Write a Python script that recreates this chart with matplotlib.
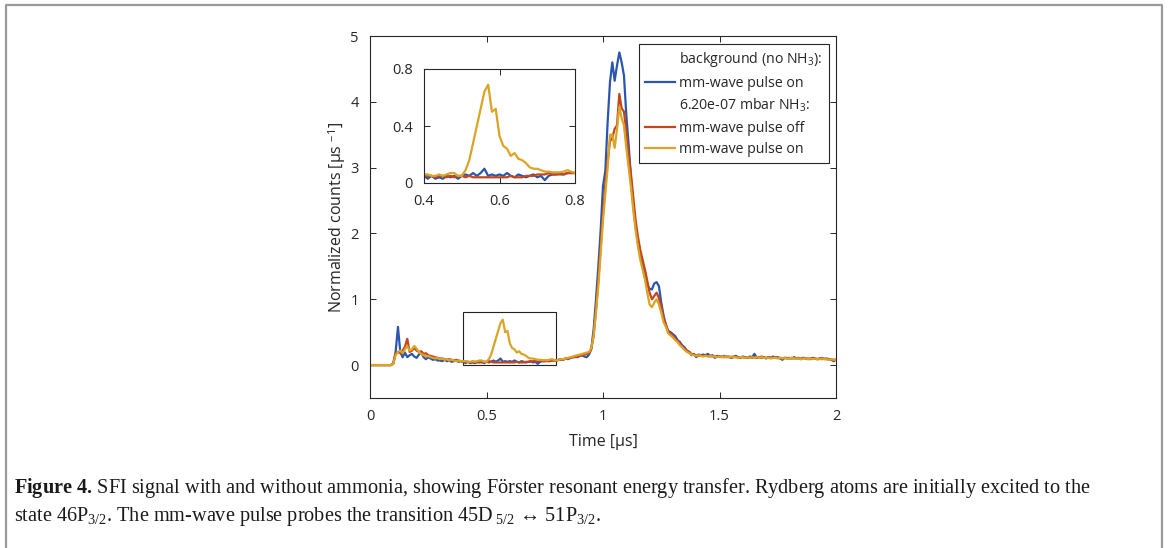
import matplotlib
matplotlib.use("Agg")
import matplotlib.pyplot as plt
from matplotlib.lines import Line2D
from matplotlib.patches import Rectangle
import numpy as np

# time axis of the SFI traces, 10 ns bins
time_us = np.round(np.arange(0, 201) * 0.01, 2)

# background (no NH3), mm-wave pulse on
bg_on = [
    0, 0, 0, 0, 0, 0, 0, 0, 0, 0,
    0.03, 0.20, 0.58, 0.20, 0.12, 0.19, 0.12, 0.15, 0.17, 0.13,
    0.11, 0.16, 0.19, 0.12, 0.09, 0.12, 0.10, 0.08, 0.09, 0.07,
    0.07, 0.06, 0.08, 0.06, 0.07, 0.05, 0.06, 0.07, 0.05, 0.06,
    0.05, 0.03, 0.05, 0.03, 0.04, 0.03, 0.05, 0.04, 0.05, 0.03,
    0.05, 0.06, 0.05, 0.07, 0.05, 0.07, 0.10, 0.05, 0.06, 0.05,
    0.06, 0.05, 0.07, 0.05, 0.04, 0.06, 0.05, 0.04, 0.05, 0.06,
    0.04, 0.05, 0.02, 0.05, 0.06, 0.06, 0.07, 0.06, 0.07, 0.07,
    0.07, 0.08, 0.09, 0.08, 0.10, 0.09, 0.11, 0.12, 0.13, 0.12,
    0.14, 0.15, 0.13, 0.12, 0.16, 0.25, 0.55, 1.00, 1.50, 2.05,
    2.72, 2.95, 3.70, 4.30, 4.60, 4.32, 4.55, 4.75, 4.60, 4.40,
    3.80, 3.35, 2.85, 2.42, 2.10, 1.85, 1.70, 1.55, 1.40, 1.22,
    1.16, 1.15, 1.24, 1.26, 1.20, 0.95, 0.75, 0.60, 0.52, 0.50,
    0.47, 0.44, 0.38, 0.35, 0.30, 0.27, 0.22, 0.20, 0.15, 0.17,
    0.12, 0.16, 0.15, 0.16, 0.15, 0.17, 0.14, 0.15, 0.11, 0.14,
    0.13, 0.12, 0.14, 0.12, 0.13, 0.11, 0.12, 0.14, 0.12, 0.11,
    0.13, 0.12, 0.11, 0.13, 0.12, 0.17, 0.11, 0.12, 0.11, 0.12,
    0.10, 0.12, 0.11, 0.13, 0.11, 0.12, 0.10, 0.08, 0.11, 0.10,
    0.11, 0.10, 0.12, 0.10, 0.11, 0.09, 0.11, 0.10, 0.09, 0.10,
    0.11, 0.10, 0.09, 0.10, 0.11, 0.09, 0.10, 0.09, 0.08, 0.06,
    0.08,
]

# 6.20e-07 mbar NH3, mm-wave pulse off
nh3_off = [
    0, 0, 0, 0, 0, 0, 0, 0, 0, 0,
    0.02, 0.18, 0.20, 0.18, 0.22, 0.28, 0.40, 0.20, 0.22, 0.26,
    0.22, 0.20, 0.21, 0.17, 0.18, 0.15, 0.14, 0.13, 0.12, 0.11,
    0.10, 0.10, 0.09, 0.08, 0.09, 0.08, 0.07, 0.08, 0.07, 0.06,
    0.05, 0.05, 0.05, 0.04, 0.05, 0.05, 0.04, 0.05, 0.04, 0.05,
    0.05, 0.04, 0.05, 0.04, 0.04, 0.04, 0.04, 0.04, 0.04, 0.04,
    0.04, 0.04, 0.04, 0.05, 0.04, 0.04, 0.04, 0.05, 0.05, 0.05,
    0.06, 0.06, 0.06, 0.07, 0.06, 0.06, 0.06, 0.06, 0.07, 0.07,
    0.07, 0.08, 0.08, 0.09, 0.10, 0.10, 0.11, 0.12, 0.12, 0.13,
    0.14, 0.15, 0.16, 0.17, 0.18, 0.25, 0.45, 0.85, 1.30, 1.80,
    2.30, 2.75, 3.10, 3.40, 3.45, 3.59, 3.64, 4.12, 3.90, 3.85,
    3.55, 3.20, 2.90, 2.55, 2.20, 1.95, 1.75, 1.60, 1.45, 1.28,
    1.10, 1.00, 1.05, 1.10, 1.02, 0.88, 0.72, 0.62, 0.50, 0.48,
    0.45, 0.40, 0.37, 0.33, 0.28, 0.25, 0.22, 0.20, 0.17, 0.16,
    0.15, 0.14, 0.15, 0.14, 0.15, 0.14, 0.13, 0.14, 0.13, 0.13,
    0.13, 0.13, 0.12, 0.13, 0.12, 0.12, 0.13, 0.12, 0.12, 0.12,
    0.12, 0.11, 0.12, 0.12, 0.11, 0.12, 0.11, 0.12, 0.13, 0.12,
    0.11, 0.12, 0.11, 0.11, 0.12, 0.11, 0.11, 0.10, 0.11, 0.11,
    0.10, 0.11, 0.10, 0.11, 0.10, 0.10, 0.11, 0.10, 0.10, 0.09,
    0.10, 0.10, 0.09, 0.10, 0.09, 0.10, 0.09, 0.09, 0.09, 0.08,
    0.08,
]

# 6.20e-07 mbar NH3, mm-wave pulse on
nh3_on = [
    0, 0, 0, 0, 0, 0, 0, 0, 0, 0,
    0.02, 0.15, 0.20, 0.22, 0.18, 0.24, 0.29, 0.22, 0.24, 0.29,
    0.25, 0.20, 0.17, 0.15, 0.13, 0.14, 0.12, 0.11, 0.10, 0.11,
    0.09, 0.10, 0.08, 0.09, 0.07, 0.08, 0.07, 0.06, 0.07, 0.06,
    0.06, 0.06, 0.05, 0.05, 0.06, 0.05, 0.06, 0.07, 0.07, 0.05,
    0.05, 0.09, 0.16, 0.28, 0.40, 0.52, 0.64, 0.69, 0.50, 0.52,
    0.33, 0.26, 0.24, 0.19, 0.21, 0.17, 0.16, 0.14, 0.11, 0.10,
    0.10, 0.09, 0.08, 0.08, 0.075, 0.075, 0.075, 0.08, 0.09, 0.08,
    0.07, 0.08, 0.09, 0.09, 0.10, 0.11, 0.12, 0.13, 0.14, 0.15,
    0.16, 0.17, 0.18, 0.19, 0.20, 0.26, 0.45, 0.80, 1.20, 1.70,
    2.20, 2.60, 3.00, 3.50, 3.50, 3.30, 3.58, 3.92, 3.75, 3.64,
    3.30, 3.00, 2.70, 2.35, 2.05, 1.80, 1.60, 1.45, 1.30, 1.10,
    0.92, 0.88, 0.95, 1.00, 0.92, 0.80, 0.65, 0.58, 0.48, 0.45,
    0.42, 0.38, 0.35, 0.30, 0.27, 0.23, 0.20, 0.18, 0.16, 0.15,
    0.14, 0.15, 0.14, 0.13, 0.14, 0.13, 0.14, 0.13, 0.13, 0.12,
    0.13, 0.12, 0.13, 0.12, 0.12, 0.13, 0.12, 0.12, 0.11, 0.12,
    0.12, 0.11, 0.12, 0.11, 0.12, 0.11, 0.12, 0.11, 0.12, 0.11,
    0.11, 0.11, 0.10, 0.11, 0.11, 0.10, 0.11, 0.10, 0.11, 0.10,
    0.10, 0.11, 0.10, 0.10, 0.10, 0.09, 0.10, 0.10, 0.09, 0.10,
    0.09, 0.10, 0.09, 0.09, 0.10, 0.09, 0.09, 0.08, 0.09, 0.08,
    0.08,
]

series_labels = ["mm-wave pulse on", "mm-wave pulse off", "mm-wave pulse on"]
colors = ["#2c56ad", "#c4461c", "#dca425"]
main_xticks = [0, 0.5, 1, 1.5, 2]
main_yticks = [0, 1, 2, 3, 4, 5]
inset_xticks = [0.4, 0.6, 0.8]
inset_yticks = [0, 0.4, 0.8]

plt.rcParams["font.family"] = ["Open Sans", "DejaVu Sans"]
plt.rcParams["mathtext.fontset"] = "custom"
plt.rcParams["mathtext.rm"] = "Liberation Serif"
plt.rcParams["mathtext.bf"] = "Liberation Serif:bold"
plt.rcParams["mathtext.it"] = "Liberation Serif:italic"
axc = "#262626"

W, H = 1168, 548
fig = plt.figure(figsize=(W / 100, H / 100), dpi=100)

def px_axes(l, t, r, b):
    return [l / W, 1 - b / H, (r - l) / W, (b - t) / H]

ax = fig.add_axes(px_axes(370, 36, 836, 398))
traces = [bg_on, nh3_off, nh3_on]
for vals, c in zip(traces, colors):
    ax.plot(time_us, vals, color=c, lw=1.6)
ax.add_patch(Rectangle((0.4, 0), 0.4, 0.8, fill=False, ec="#222222", lw=0.8))
ax.set_xlim(0, 2)
ax.set_ylim(-0.5, 5)
ax.set_xticks(main_xticks)
ax.set_xticklabels(["0", "0.5", "1", "1.5", "2"])
ax.set_yticks(main_yticks)
ax.set_xlabel("Time [µs]", fontsize=11.5, color=axc, labelpad=7)
ax.set_ylabel(r"Normalized counts [µs $^{\mathregular{-1}}$]", fontsize=11.5,
              color=axc, labelpad=2)

ax_in = fig.add_axes(px_axes(424, 69, 575, 183))
for vals, c in zip(traces, colors):
    ax_in.plot(time_us, vals, color=c, lw=1.6)
ax_in.set_xlim(0.4, 0.8)
ax_in.set_ylim(0, 0.8)
ax_in.set_xticks(inset_xticks)
ax_in.set_xticklabels(["0.4", "0.6", "0.8"])
ax_in.set_yticks(inset_yticks)
ax_in.set_yticklabels(["0", "0.4", "0.8"])

for a in (ax, ax_in):
    a.tick_params(direction="in", top=True, right=True, length=4, width=0.7,
                  colors=axc, labelsize=10.5, pad=8)
    for s in a.spines.values():
        s.set_color(axc)
        s.set_linewidth(0.8)

blank = Line2D([], [], color="none")
handles = [blank] + [Line2D([], [], color=colors[0], lw=1.6), blank,
                     Line2D([], [], color=colors[1], lw=1.6),
                     Line2D([], [], color=colors[2], lw=1.6)]
labels = [r"background (no NH$_{\mathregular{3}}$):", series_labels[0],
          r"6.20e-07 mbar NH$_{\mathregular{3}}$:", series_labels[1], series_labels[2]]
leg = ax.legend(handles, labels, loc="upper right", bbox_to_anchor=(0.985, 0.978),
                borderaxespad=0, fancybox=False, framealpha=1, edgecolor=axc,
                fontsize=10.2, handlelength=2.1, handletextpad=0.3,
                labelspacing=0.45, borderpad=0.45)
leg.get_frame().set_linewidth(0.8)
for t in leg.get_texts():
    t.set_color(axc)

# caption
cap_font = ["Liberation Serif", "DejaVu Serif"]
fig.text(14 / W, 1 - 488 / H,
         r"$\mathbf{Figure\ 4.\,}$SFI signal with and without ammonia, showing Förster resonant "
         "energy transfer. Rydberg atoms are initially excited to the",
         family=cap_font, fontsize=14.6, va="center", color="#1a1a1a")
fig.text(14 / W, 1 - 517 / H,
         r"state 46P$_{3/2}$. The mm-wave pulse probes the transition 45D$_{\ 5/2}$ ↔ 51P$_{3/2}$.",
         family=cap_font, fontsize=14.6, va="center", color="#1a1a1a")

# page frame
fx = [6 / W, 6 / W, 1162 / W, 1162 / W]
fy = [0, 1 - 5 / H, 1 - 5 / H, 0]
fig.add_artist(Line2D(fx, fy, transform=fig.transFigure, color="#9a9a9a", lw=1.6))

fig.savefig("out.png", dpi=100)
